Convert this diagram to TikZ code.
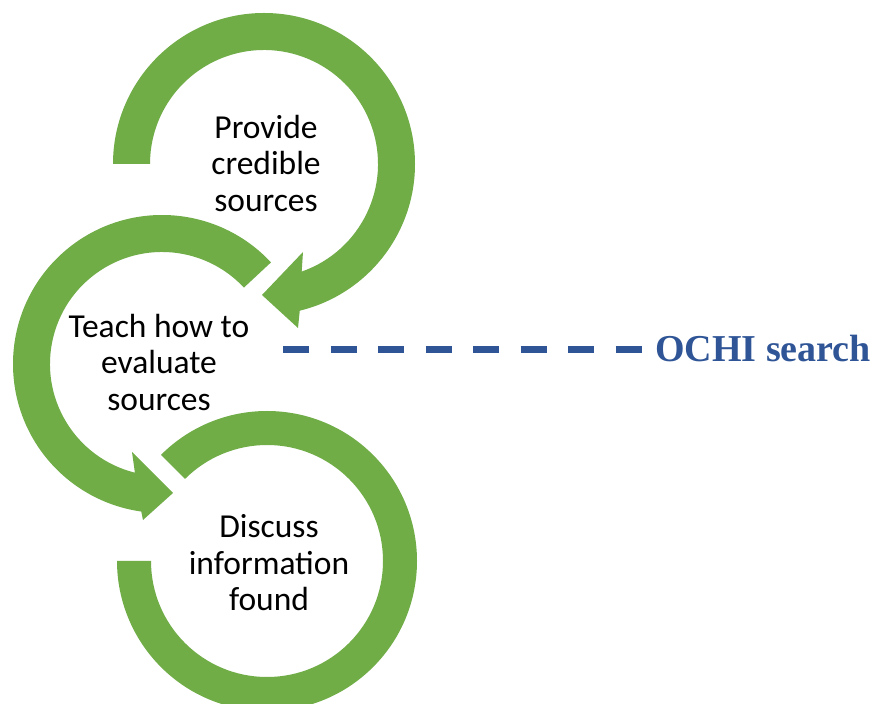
\documentclass[tikz,border=0pt]{standalone}
\usepackage{fontspec}
\setmainfont{Carlito}
\newfontfamily\ochifont{Liberation Serif}
\definecolor{ringgreen}{RGB}{112,173,71}
\definecolor{ochiblue}{RGB}{47,85,151}
\begin{document}
\begin{tikzpicture}[x=1pt,y=1pt,
  ring/.style={fill=ringgreen, draw=none},
  lbl/.style={align=center, font=\fontsize{33.5}{36.5}\selectfont, inner sep=0pt},
  ochidash/.style={draw=ochiblue, line width=7pt, dash pattern=on 26pt off 21.5pt}]
\useasboundingbox (0,0) rectangle (873,704);
\clip (0,0) rectangle (873,704);
\fill[white] (0,0) rectangle (873,704);
\coordinate (C1) at (264,540);
\coordinate (C2) at (162,340);
\coordinate (C3) at (267,143);
% ring 3 (bottom)
\path[ring] ([shift={(135:116)}]C3) -- ([shift={(135:150)}]C3)
  arc[start angle=135, end angle=-180, radius=150]
  -- ([shift={(180:116)}]C3)
  arc[start angle=-180, end angle=135, radius=116] -- cycle;
% ring 2 (middle)
\path[ring] ([shift={(43:112)}]C2) -- ([shift={(43:149)}]C2)
  arc[start angle=43, end angle=262, radius=149]
  -- (143,184) -- (173,211) -- (132,252)
  -- ([shift={(256:112)}]C2)
  arc[start angle=256, end angle=43, radius=112] -- cycle;
% ring 1 (top)
\path[ring] ([shift={(180:114)}]C1) -- ([shift={(180:151)}]C1)
  arc[start angle=180, end angle=-76.3, radius=151]
  -- (298,376) -- (262,409) -- (303,452)
  -- ([shift={(-70.7:114)}]C1)
  arc[start angle=-70.7, end angle=180, radius=114] -- cycle;
\node[lbl] (provide) at (266,541) {Provide\\credible\\sources};
\node[lbl] (teach) at (159,342) {Teach how to\\evaluate\\sources};
\node[lbl] (discuss) at (269,141) {Discuss\\information\\found};
\node[anchor=base west, inner sep=0pt, text=ochiblue,
  font=\ochifont\bfseries\fontsize{38}{40}\selectfont] (ochi) at (655,342) {OCHI search};
\coordinate (dstart) at (283,354);
\coordinate (dend) at (642,354);
\draw[ochidash] (dstart) -- (dend);
\end{tikzpicture}
\end{document}
